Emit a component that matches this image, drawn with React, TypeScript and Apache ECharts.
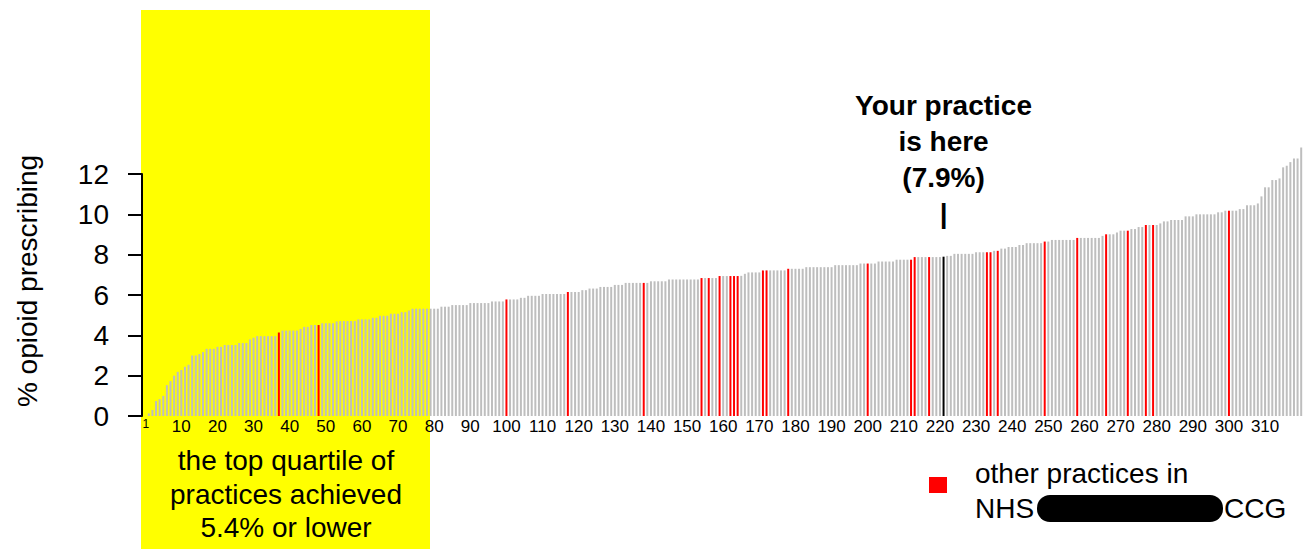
import React, { useEffect, useRef } from "react";
import * as echarts from "echarts";

// % opioid prescribing for each practice, sorted ascending (rank 1..320)
const values: number[] = [
  0.13, 0.30, 0.74, 0.84, 1.00, 1.53, 1.73, 2.00, 2.19, 2.28,
  2.44, 2.54, 3.00, 3.00, 3.07, 3.17, 3.33, 3.33, 3.33, 3.43,
  3.43, 3.52, 3.52, 3.52, 3.52, 3.62, 3.62, 3.62, 3.80, 3.88,
  3.96, 3.96, 3.96, 3.96, 3.96, 3.96, 4.14, 4.24, 4.24, 4.24,
  4.24, 4.24, 4.32, 4.42, 4.42, 4.51, 4.51, 4.51, 4.60, 4.60,
  4.60, 4.60, 4.69, 4.71, 4.71, 4.71, 4.71, 4.71, 4.79, 4.79,
  4.79, 4.79, 4.87, 4.87, 4.97, 4.97, 4.97, 5.07, 5.07, 5.07,
  5.15, 5.15, 5.23, 5.32, 5.32, 5.32, 5.32, 5.32, 5.32, 5.32,
  5.32, 5.42, 5.42, 5.42, 5.50, 5.50, 5.50, 5.50, 5.50, 5.60,
  5.60, 5.60, 5.60, 5.60, 5.60, 5.68, 5.68, 5.68, 5.68, 5.78,
  5.78, 5.78, 5.78, 5.86, 5.86, 5.96, 5.96, 5.96, 5.96, 6.05,
  6.05, 6.05, 6.05, 6.05, 6.05, 6.05, 6.15, 6.15, 6.15, 6.15,
  6.24, 6.24, 6.32, 6.32, 6.32, 6.40, 6.40, 6.40, 6.40, 6.50,
  6.50, 6.50, 6.60, 6.60, 6.60, 6.60, 6.60, 6.60, 6.60, 6.68,
  6.68, 6.68, 6.68, 6.68, 6.77, 6.77, 6.77, 6.77, 6.77, 6.77,
  6.77, 6.77, 6.77, 6.84, 6.84, 6.84, 6.84, 6.84, 6.94, 6.94,
  6.94, 6.94, 6.94, 6.94, 6.95, 7.05, 7.12, 7.12, 7.12, 7.12,
  7.22, 7.22, 7.22, 7.22, 7.22, 7.22, 7.22, 7.30, 7.30, 7.30,
  7.30, 7.30, 7.38, 7.38, 7.38, 7.38, 7.38, 7.38, 7.38, 7.38,
  7.48, 7.48, 7.48, 7.48, 7.48, 7.48, 7.48, 7.56, 7.56, 7.56,
  7.56, 7.56, 7.66, 7.66, 7.66, 7.66, 7.66, 7.75, 7.75, 7.75,
  7.75, 7.75, 7.88, 7.88, 7.88, 7.88, 7.88, 7.88, 7.88, 7.88,
  7.90, 7.94, 7.94, 8.04, 8.04, 8.04, 8.04, 8.04, 8.04, 8.12,
  8.12, 8.12, 8.12, 8.12, 8.19, 8.19, 8.30, 8.30, 8.38, 8.38,
  8.38, 8.48, 8.48, 8.57, 8.57, 8.57, 8.57, 8.57, 8.65, 8.65,
  8.73, 8.73, 8.73, 8.73, 8.73, 8.73, 8.73, 8.83, 8.83, 8.83,
  8.83, 8.83, 8.83, 8.83, 8.93, 9.01, 9.01, 9.01, 9.10, 9.19,
  9.19, 9.19, 9.27, 9.27, 9.37, 9.37, 9.47, 9.47, 9.47, 9.47,
  9.55, 9.65, 9.65, 9.72, 9.72, 9.72, 9.72, 9.90, 9.90, 9.90,
  10.00, 10.00, 10.00, 10.00, 10.00, 10.00, 10.10, 10.10, 10.18, 10.18,
  10.18, 10.18, 10.26, 10.26, 10.45, 10.45, 10.45, 10.54, 10.89, 11.34,
  11.34, 11.70, 11.70, 11.78, 12.33, 12.41, 12.59, 12.77, 12.77, 13.32,
];

// ranks of other practices in the same CCG (red)
const ccgRanks: number[] = [
  37, 48, 100, 117, 138, 154, 156, 159, 162, 163, 164, 171, 172, 178, 200,
  212, 213, 217, 233, 234, 236, 249, 258, 266, 272, 277, 279, 300,
];

// rank of "your practice" (black)
const yourRank = 221;
const yourValue = 7.9;

// x tick labels shown
const xTickLabels: number[] = [
  1, 10, 20, 30, 40, 50, 60, 70, 80, 90, 100, 110, 120, 130, 140, 150, 160,
  170, 180, 190, 200, 210, 220, 230, 240, 250, 260, 270, 280, 290, 300, 310,
];

const yTicks: number[] = [0, 2, 4, 6, 8, 10, 12];

const FONT = "'Liberation Sans', Arial, sans-serif";

export default function App() {
  const ref = useRef<HTMLDivElement>(null);

  useEffect(() => {
    document.body.style.margin = "0";
    if (!ref.current) return;
    const chart = echarts.init(ref.current, null, { renderer: "svg" });

    const categories = values.map((_, i) => String(i + 1));
    const redSet = new Set(ccgRanks);
    const labelSet = new Set(xTickLabels.map(String));

    const data = values.map((v, i) => {
      const rank = i + 1;
      let color = "#BEBEBE";
      if (rank === yourRank) color = "#000000";
      else if (redSet.has(rank)) color = "#FF0000";
      return { value: rank === yourRank ? yourValue : v, itemStyle: { color } };
    });

    const txt = (text: string, x: number, y: number, extra: any = {}) => ({
      type: "text",
      x,
      y,
      style: {
        text,
        fontSize: 28,
        fontFamily: FONT,
        fill: "#000",
        align: "left",
        verticalAlign: "middle",
        ...extra,
      },
    });

    chart.setOption({
      animation: false,
      textStyle: { fontFamily: FONT },
      grid: { left: 147, width: 1157, top: 174, height: 242 },
      xAxis: {
        type: "category",
        data: categories,
        axisLine: { show: false },
        axisTick: { show: false },
        axisLabel: {
          interval: (_idx: number, val: string) => labelSet.has(val),
          fontSize: 17,
          color: "#000",
          margin: 2,
          fontFamily: FONT,
          formatter: (val: string) => (val === "1" ? "{s|1}" : val),
          rich: { s: { fontSize: 12, color: "#000", fontFamily: FONT, padding: [0, 6, 0, 0] } },
        },
      },
      yAxis: {
        type: "value",
        min: yTicks[0],
        max: yTicks[yTicks.length - 1],
        interval: 2,
        offset: 5,
        axisLine: { show: true, lineStyle: { color: "#000", width: 2 } },
        axisTick: { show: true, length: 14, lineStyle: { color: "#000", width: 2 } },
        splitLine: { show: false },
        axisLabel: { fontSize: 28, color: "#000", margin: 33, fontFamily: FONT },
      },
      graphic: [
        {
          type: "rect",
          z: -10,
          shape: { x: 141, y: 10, width: 289, height: 539 },
          style: { fill: "#FFFF00" },
        },
        {
          ...txt("% opioid prescribing", 27, 281, { align: "center" }),
          rotation: Math.PI / 2,
        },
        txt("the top quartile of\npractices achieved\n5.4% or lower", 286, 494, {
          align: "center",
          lineHeight: 33.5,
        }),
        {
          type: "rect",
          shape: { x: 929, y: 477, width: 18, height: 16 },
          style: { fill: "#FF0000" },
        },
        txt("other practices in", 975, 473),
        txt("NHS", 975, 508),
        {
          type: "rect",
          shape: { x: 1037, y: 495, width: 186, height: 27, r: 13 },
          style: { fill: "#000" },
        },
        txt("CCG", 1224, 508),
      ],
      series: [
        {
          type: "bar",
          data,
          barWidth: 2,
          clip: false,
          z: 2,
          markPoint: {
            symbol: "circle",
            symbolSize: 0,
            data: [
              {
                coord: [String(yourRank), yourValue],
                label: {
                  show: true,
                  position: "top",
                  distance: 25,
                  formatter: `Your practice\nis here\n(${yourValue}%)\n|`,
                  fontSize: 28,
                  fontWeight: "bold",
                  lineHeight: 36,
                  color: "#000",
                  align: "center",
                  fontFamily: FONT,
                },
              },
            ],
          },
        },
      ],
    });

    return () => chart.dispose();
  }, []);

  return <div ref={ref} style={{ width: 1303, height: 549 }} />;
}
